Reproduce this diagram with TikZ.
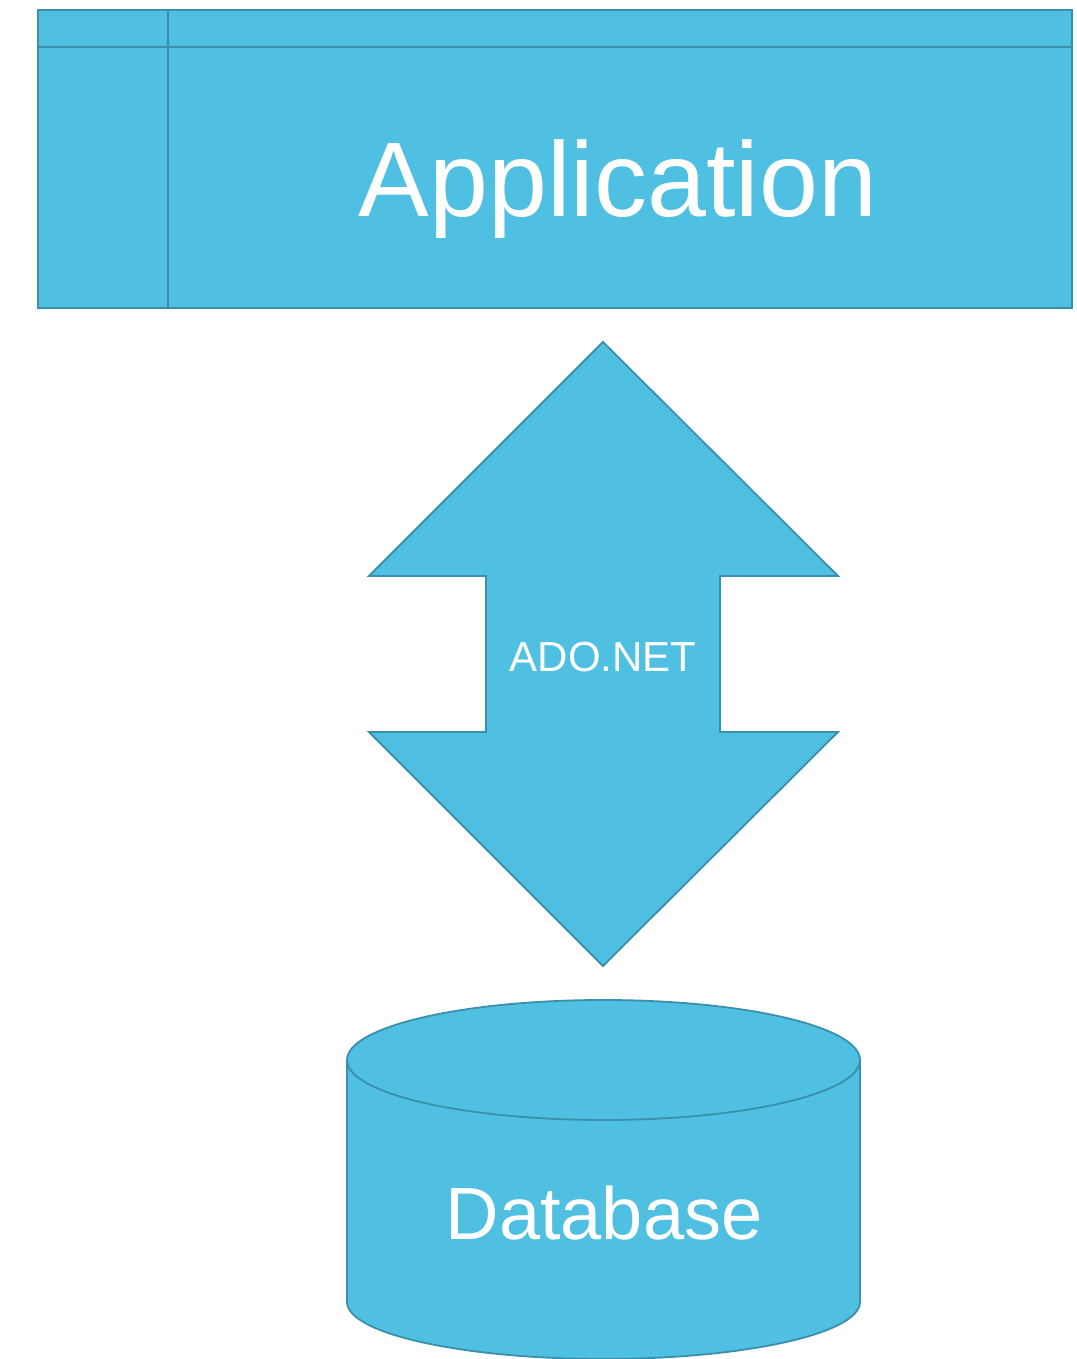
\documentclass[tikz,border=0pt]{standalone}
\usepackage{fontspec}
\setmainfont{Liberation Sans}
\definecolor{fillblue}{HTML}{4FBFE2}
\definecolor{edgeblue}{HTML}{3A90AA}
\begin{document}
\begin{tikzpicture}[x=1pt,y=1pt,
  shapestyle/.style={fill=fillblue,draw=edgeblue,line width=1.8pt,line join=miter},
  whitetext/.style={text=white,inner sep=0pt,anchor=base}]
\useasboundingbox (0,0) rectangle (1076,1359);
% Application box
\node[shapestyle,rectangle,minimum width=1034pt,minimum height=298pt,inner sep=0pt] (app) at (555,1200) {};
\draw[draw=edgeblue,line width=1.8pt] (38,1312) -- (1072,1312);
\draw[draw=edgeblue,line width=1.8pt] (168,1349) -- (168,1051);
\node[whitetext,font=\fontsize{106}{120}\selectfont] (apptext) at (618,1142) {Application};
% Double arrow
\draw[shapestyle] (603,1017) -- (838,783) -- (720,783) -- (720,627) -- (838,627)
  -- (603,393) -- (369,627) -- (486,627) -- (486,783) -- (369,783) -- cycle;
\node[whitetext,font=\fontsize{42}{50}\selectfont] (ado) at (603,687) {ADO.NET};
% Database cylinder
\draw[shapestyle] (347,299) -- (347,57)
  arc[start angle=180,end angle=360,x radius=256.5,y radius=57]
  -- (860,299);
\draw[shapestyle] (603.5,299) ellipse[x radius=256.5,y radius=60];
\node[whitetext,font=\fontsize{74}{88}\selectfont] (db) at (604,119) {Database};
\end{tikzpicture}
\end{document}
